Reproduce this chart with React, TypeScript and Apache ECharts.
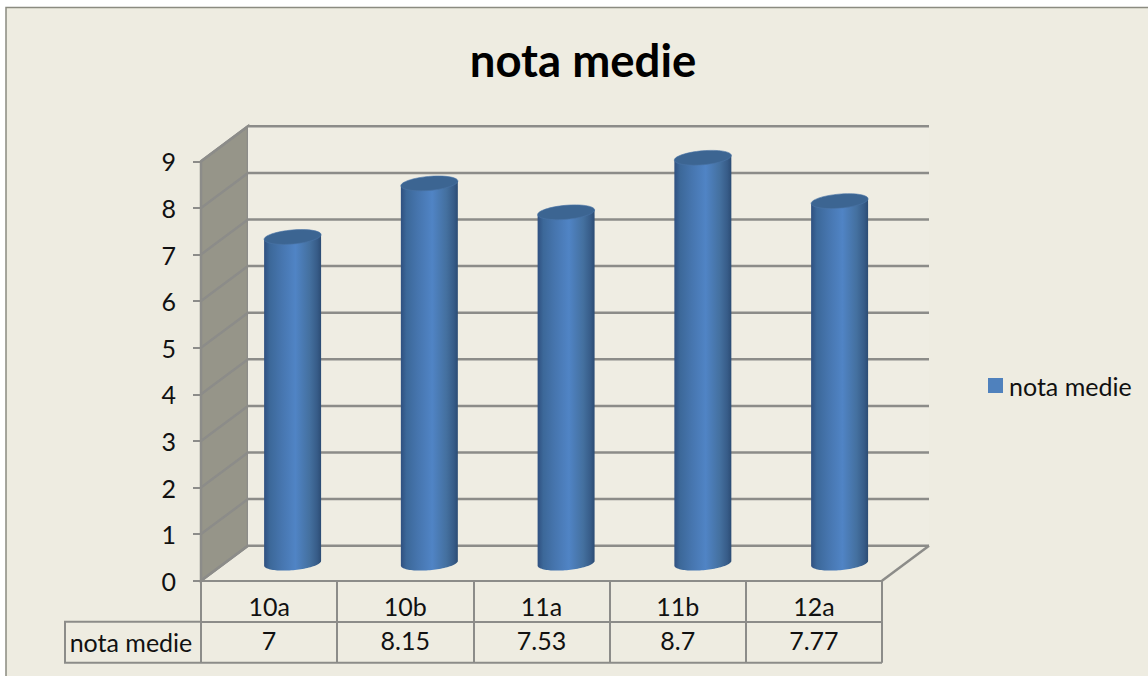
import React, { useEffect, useRef } from "react";
import * as echarts from "echarts";

const categories = ["10a", "10b", "11a", "11b", "12a"];
const values = [7, 8.15, 7.53, 8.7, 7.77];
const valueLabels = ["7", "8.15", "7.53", "8.7", "7.77"];
const yTicks = [0, 1, 2, 3, 4, 5, 6, 7, 8, 9];
const seriesName = "nota medie";

const DEPTH_X = 47;
const DEPTH_Y = 35;
const PERSPECTIVE_DRIFT = 0.55;
const GRID_COLOR = "#8c8c89";
const FONT = "Lato, 'Open Sans', sans-serif";
const TEXT_SIZE = 25;

const bodyGradient = () =>
  new echarts.graphic.LinearGradient(0, 0, 1, 0, [
    { offset: 0, color: "#2f5080" },
    { offset: 0.1, color: "#3c6899" },
    { offset: 0.3, color: "#4675ae" },
    { offset: 0.55, color: "#5084c5" },
    { offset: 0.8, color: "#44709f" },
    { offset: 0.93, color: "#375c88" },
    { offset: 1, color: "#2c4c74" },
  ]);

const renderWalls = (_p: any, api: any) => {
  const band = api.size([1, 0])[0];
  const left = api.coord([0, 0])[0] - band / 2;
  const y0 = api.coord([0, 0])[1];
  const y9 = api.coord([0, 9])[1];
  return {
    type: "group",
    children: [
      {
        type: "polygon",
        shape: {
          points: [
            [left, y0],
            [left + DEPTH_X, y0 - DEPTH_Y],
            [left + DEPTH_X, y9 - DEPTH_Y],
            [left, y9],
          ],
        },
        style: { fill: "#969589", stroke: GRID_COLOR, lineWidth: 2.5 },
      },
      {
        type: "rect",
        shape: { x: left + DEPTH_X, y: y9 - DEPTH_Y, width: band * 5, height: y0 - y9 },
        style: { fill: "#efede3" },
      },
    ],
  };
};

const renderGridLine = (_p: any, api: any) => {
  const band = api.size([1, 0])[0];
  const left = api.coord([0, 0])[0] - band / 2;
  const right = left + band * 5;
  const y = api.coord([0, api.value(0)])[1];
  const style = { stroke: GRID_COLOR, lineWidth: 2.5, fill: "none" };
  const children: any[] = [
    {
      type: "polyline",
      shape: {
        points: [
          [left, y],
          [left + DEPTH_X, y - DEPTH_Y],
          [right + DEPTH_X, y - DEPTH_Y],
        ],
      },
      style,
    },
  ];
  if (api.value(0) === 0) {
    children.push({
      type: "line",
      shape: { x1: right, y1: y, x2: right + DEPTH_X, y2: y - DEPTH_Y },
      style,
    });
  }
  return { type: "group", children };
};

const renderCylinder = (_p: any, api: any) => {
  const band = api.size([1, 0])[0];
  const index = api.value(0);
  const [cx0, yBase0] = api.coord([index, 0]);
  const yTop0 = api.coord([index, api.value(1)])[1];
  const cx = cx0 + DEPTH_X / 2 + index * PERSPECTIVE_DRIFT;
  const yBase = yBase0 - DEPTH_Y / 2;
  const yTop = yTop0 - DEPTH_Y / 2;
  const rx = band * 0.21;
  const ry = 7;
  const tilt = (5 * Math.PI) / 180;
  const edge = (a: number): [number, number] => [
    cx + rx * Math.cos(a) * Math.cos(tilt) + ry * Math.sin(a) * Math.sin(tilt),
    yBase - rx * Math.cos(a) * Math.sin(tilt) + ry * Math.sin(a) * Math.cos(tilt),
  ];
  const arc: [number, number][] = [];
  for (let i = 0; i <= 48; i++) arc.push(edge((Math.PI * i) / 48));
  const dy = yTop - yBase;
  const points = [
    ...arc,
    [arc[arc.length - 1][0], arc[arc.length - 1][1] + dy],
    [arc[0][0], arc[0][1] + dy],
  ];
  return {
    type: "group",
    children: [
      { type: "polygon", shape: { points }, style: { fill: bodyGradient() } },
      {
        type: "ellipse",
        x: cx,
        y: yTop,
        rotation: tilt,
        shape: { cx: 0, cy: 0, rx, ry },
        style: { fill: "#3c6592", stroke: "#4a74a6", lineWidth: 0.6 },
      },
    ],
  };
};

const renderTableFrame = (_p: any, api: any) => {
  const band = api.size([1, 0])[0];
  const left = api.coord([0, 0])[0] - band / 2;
  const right = left + band * 5;
  const y0 = api.coord([0, 0])[1];
  const rowH = 41;
  const style = { stroke: GRID_COLOR, lineWidth: 2, fill: "none" };
  return {
    type: "polyline",
    shape: {
      points: [
        [left, y0 + rowH],
        [65, y0 + rowH],
        [65, y0 + rowH * 2],
        [right, y0 + rowH * 2],
      ],
    },
    style,
  };
};

export default function App() {
  const ref = useRef<HTMLDivElement>(null);

  useEffect(() => {
    document.body.style.margin = "0";
    document.documentElement.style.overflow = "hidden";
    const chart = echarts.init(ref.current!, null, { renderer: "svg" });
    const axisLine = { show: true, lineStyle: { color: GRID_COLOR, width: 2 } };
    const axisTick = { show: true, lineStyle: { color: GRID_COLOR, width: 2 } };
    const labelStyle = { color: "#111", fontFamily: FONT, fontSize: TEXT_SIZE };
    chart.setOption({
      animation: false,
      backgroundColor: "#ffffff",
      title: {
        text: seriesName,
        left: 578,
        top: 31,
        textAlign: "center",
        textStyle: { color: "#000", fontFamily: FONT, fontWeight: "bold", fontSize: 45.5 },
      },
      legend: {
        data: [{ name: seriesName, icon: "rect" }],
        left: 983,
        top: 368,
        itemWidth: 15,
        itemHeight: 15,
        itemGap: 0,
        textStyle: { ...labelStyle, padding: [0, 0, 0, 1] },
      },
      grid: { left: 201, right: 266, top: 161.3, bottom: 95.3, containLabel: false },
      xAxis: [
        {
          type: "category",
          data: categories,
          position: "bottom",
          axisLine,
          axisTick: { ...axisTick, length: 41, alignWithLabel: false },
          axisLabel: { ...labelStyle, margin: 13 },
          splitLine: { show: false },
        },
        {
          type: "category",
          data: valueLabels,
          position: "bottom",
          offset: 41,
          axisLine,
          axisTick: { ...axisTick, length: 41, alignWithLabel: false },
          axisLabel: { ...labelStyle, margin: 6 },
          splitLine: { show: false },
        },
      ],
      yAxis: {
        type: "value",
        min: 0,
        max: 9,
        interval: 1,
        axisLine,
        axisTick: { ...axisTick, length: 8 },
        axisLabel: { ...labelStyle, margin: 25 },
        splitLine: { show: false },
      },
      graphic: [
        {
          type: "rect",
          z: -10,
          silent: true,
          shape: { x: 6, y: 7.5, width: 1200, height: 700 },
          style: { fill: "#eeece1", stroke: "#8b8b80", lineWidth: 1.5 },
        },
        {
          type: "text",
          x: 131,
          y: 642,
          style: {
            text: seriesName,
            fill: "#111",
            font: `${TEXT_SIZE}px ${FONT}`,
            textAlign: "center",
            textVerticalAlign: "middle",
          },
        },
      ],
      series: [
        {
          type: "custom",
          name: "walls",
          coordinateSystem: "cartesian2d",
          clip: false,
          silent: true,
          data: [[0]],
          encode: { x: -1, y: -1 },
          renderItem: renderWalls,
          z: 1,
        },
        {
          type: "custom",
          name: "gridlines",
          coordinateSystem: "cartesian2d",
          clip: false,
          silent: true,
          data: yTicks.map((t) => [t]),
          encode: { x: -1, y: 0 },
          renderItem: renderGridLine,
          z: 2,
        },
        {
          type: "custom",
          name: "table",
          coordinateSystem: "cartesian2d",
          clip: false,
          silent: true,
          data: [[0]],
          encode: { x: -1, y: -1 },
          renderItem: renderTableFrame,
          z: 2,
        },
        {
          type: "custom",
          name: seriesName,
          coordinateSystem: "cartesian2d",
          clip: false,
          itemStyle: { color: "#4f81bd" },
          data: values.map((v, i) => [i, v]),
          encode: { x: 0, y: 1 },
          renderItem: renderCylinder,
          z: 3,
        },
      ],
    });
    return () => chart.dispose();
  }, []);

  return <div ref={ref} style={{ width: 1148, height: 676 }} />;
}
